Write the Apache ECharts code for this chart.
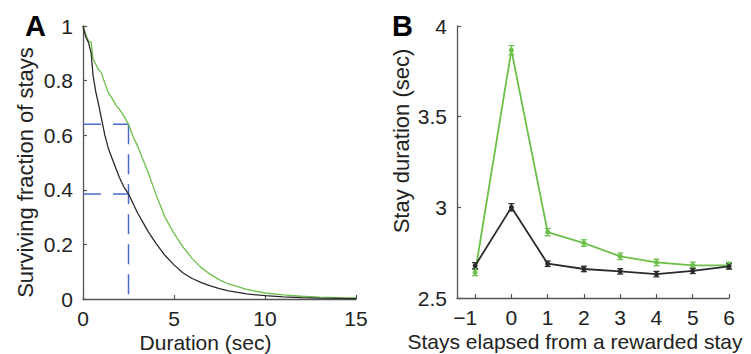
<!DOCTYPE html>
<html>
<head>
<meta charset="utf-8">
<style>
  html, body { margin: 0; padding: 0; background: #fff; }
  #chart { width: 751px; height: 354px; }
</style>
<script src="https://cdn.jsdelivr.net/npm/echarts@6/dist/echarts.min.js"></script>
</head>
<body>
<div id="chart"></div>
<script>
// Panel A: survival curves of stay durations
var durA = [0, 0.15, 0.3, 0.45, 0.55, 0.7, 0.85, 1.0, 1.2, 1.4, 1.6, 1.8, 2.0, 2.25, 2.5, 2.75, 3.0, 3.3, 3.6, 4.0, 4.5, 5.0, 5.5, 6.0, 6.5, 7.0, 7.5, 8.0, 9.0, 10.0, 11.0, 12.0, 13.0, 14.0, 15.0];
var survBlack = [1, 0.96, 0.94, 0.9, 0.82, 0.76, 0.715, 0.665, 0.6, 0.55, 0.515, 0.48, 0.445, 0.41, 0.385, 0.35, 0.315, 0.28, 0.245, 0.205, 0.16, 0.125, 0.095, 0.075, 0.06, 0.048, 0.038, 0.03, 0.019, 0.012, 0.008, 0.005, 0.003, 0.002, 0.001];
var survGreen = [1, 0.97, 0.945, 0.94, 0.88, 0.86, 0.84, 0.83, 0.79, 0.755, 0.735, 0.71, 0.695, 0.67, 0.64, 0.595, 0.56, 0.51, 0.46, 0.385, 0.3, 0.24, 0.19, 0.148, 0.115, 0.09, 0.07, 0.055, 0.035, 0.022, 0.015, 0.01, 0.007, 0.005, 0.004];
var cutTime = 2.5;
var cutLevels = [0.64, 0.385];

// Panel B: stay duration vs stays elapsed from a rewarded stay
var lagB = [-1, 0, 1, 2, 3, 4, 5, 6];
var greenMean = [2.641, 3.867, 2.863, 2.803, 2.73, 2.696, 2.68, 2.68];
var greenErr = [0.018, 0.025, 0.02, 0.018, 0.018, 0.018, 0.018, 0.018];
var blackMean = [2.678, 3.0, 2.689, 2.66, 2.647, 2.632, 2.65, 2.674];
var blackErr = [0.017, 0.02, 0.015, 0.015, 0.015, 0.015, 0.015, 0.015];

var green = '#6cc04a';
var black = '#2b2b2b';
var blue = '#4a6cc8';
var axisCol = '#555555';
var textCol = '#222222';
var font = 'Liberation Sans';

function pairs(xs, ys) {
  return xs.map(function(x, i) { return [x, ys[i]]; });
}
function errData(xs, m, e) {
  return xs.map(function(x, i) { return [x, m[i] - e[i], m[i] + e[i]]; });
}
function errorBars(color) {
  return function(params, api) {
    var lo = api.coord([api.value(0), api.value(1)]);
    var hi = api.coord([api.value(0), api.value(2)]);
    var w = 3;
    var st = { stroke: color, lineWidth: 1.3 };
    return {
      type: 'group',
      children: [
        { type: 'line', shape: { x1: lo[0], y1: lo[1], x2: hi[0], y2: hi[1] }, style: st },
        { type: 'line', shape: { x1: lo[0] - w, y1: lo[1], x2: lo[0] + w, y2: lo[1] }, style: st },
        { type: 'line', shape: { x1: hi[0] - w, y1: hi[1], x2: hi[0] + w, y2: hi[1] }, style: st }
      ]
    };
  };
}

var axisCommon = {
  nameMoveOverlap: false,
  axisLine: { show: true, onZero: false, lineStyle: { color: axisCol, width: 1.3 } },
  axisTick: { show: true, inside: true, length: 4, lineStyle: { color: axisCol, width: 1.2 } },
  axisLabel: { color: textCol, fontSize: 21, lineHeight: 19, fontFamily: font, margin: 10 },
  splitLine: { show: false },
  nameTextStyle: { color: textCol, fontSize: 21, lineHeight: 19, fontFamily: font }
};
function ax(extra) {
  var o = JSON.parse(JSON.stringify(axisCommon));
  for (var k in extra) {
    if (typeof extra[k] === 'object' && o[k] && !Array.isArray(extra[k])) {
      for (var j in extra[k]) o[k][j] = extra[k][j];
    } else {
      o[k] = extra[k];
    }
  }
  return o;
}

var chart = echarts.init(document.getElementById('chart'), null, { renderer: 'svg' });
chart.setOption({
  animation: false,
  backgroundColor: '#fff',
  title: [
    { text: 'A', left: 20, top: 6, textStyle: { fontSize: 29, fontWeight: 'bold', color: '#000', fontFamily: font } },
    { text: 'B', left: 387, top: 6, textStyle: { fontSize: 29, fontWeight: 'bold', color: '#000', fontFamily: font } }
  ],
  grid: [
    { left: 83, top: 26, width: 273, height: 273, outerBoundsMode: 'none', containLabel: false },
    { left: 457, top: 26, width: 272, height: 272, outerBoundsMode: 'none', containLabel: false }
  ],
  xAxis: [
    ax({
      gridIndex: 0, type: 'value', min: 0, max: 15, interval: 5,
      axisLabel: { margin: 10 },
      name: 'Duration (sec)', nameLocation: 'middle', nameGap: 34,
      nameTextStyle: { padding: [0, 28, 0, 0] }
    }),
    ax({
      gridIndex: 1, type: 'value', min: -1.5, max: 6,
      axisTick: { customValues: lagB },
      axisLabel: {
        margin: 10,
        customValues: lagB,
        formatter: function(v) {
          return v < 0 ? '{neg|' + String(v).replace('-', '\u2212') + '}' : String(v);
        },
        rich: { neg: { fontSize: 21, lineHeight: 19, fontFamily: font, color: textCol, padding: [0, 20, 0, 0] } }
      },
      name: 'Stays elapsed from a rewarded stay', nameLocation: 'middle', nameGap: 34,
      nameTextStyle: { padding: [0, 36, 0, 0] }
    })
  ],
  yAxis: [
    ax({
      gridIndex: 0, type: 'value', min: 0, max: 1, interval: 0.2,
      name: 'Surviving fraction of stays', nameLocation: 'middle', nameGap: 48,
      nameTextStyle: { fontSize: 22, padding: [0, 20, 0, 0] }
    }),
    ax({
      gridIndex: 1, type: 'value', min: 2.5, max: 4, interval: 0.5,
      name: 'Stay duration (sec)', nameLocation: 'middle', nameGap: 46,
      nameTextStyle: { fontSize: 22, padding: [0, 0, 0, 42] }
    })
  ],
  series: [
    {
      type: 'line', xAxisIndex: 0, yAxisIndex: 0, showSymbol: false,
      data: [[0, cutLevels[0]], [cutTime, cutLevels[0]]],
      lineStyle: { color: blue, width: 1.5, type: [18, 12] }
    },
    {
      type: 'line', xAxisIndex: 0, yAxisIndex: 0, showSymbol: false,
      data: [[0, cutLevels[1]], [cutTime, cutLevels[1]]],
      lineStyle: { color: blue, width: 1.5, type: [18, 12] }
    },
    {
      type: 'line', xAxisIndex: 0, yAxisIndex: 0, showSymbol: false,
      data: [[cutTime, cutLevels[0]], [cutTime, 0]],
      lineStyle: { color: blue, width: 1.5, type: [20, 10] }
    },
    {
      type: 'line', xAxisIndex: 0, yAxisIndex: 0, showSymbol: false,
      data: pairs(durA, survGreen),
      lineStyle: { color: green, width: 1.3 }
    },
    {
      type: 'line', xAxisIndex: 0, yAxisIndex: 0, showSymbol: false,
      data: pairs(durA, survBlack),
      lineStyle: { color: black, width: 1.3 }
    },
    {
      type: 'line', xAxisIndex: 1, yAxisIndex: 1,
      data: pairs(lagB, greenMean),
      symbol: 'circle', symbolSize: 5,
      itemStyle: { color: green }, lineStyle: { color: green, width: 1.8 }
    },
    {
      type: 'custom', xAxisIndex: 1, yAxisIndex: 1,
      data: errData(lagB, greenMean, greenErr),
      renderItem: errorBars(green), encode: { x: 0, y: [1, 2] }
    },
    {
      type: 'line', xAxisIndex: 1, yAxisIndex: 1,
      data: pairs(lagB, blackMean),
      symbol: 'circle', symbolSize: 5,
      itemStyle: { color: black }, lineStyle: { color: black, width: 1.8 }
    },
    {
      type: 'custom', xAxisIndex: 1, yAxisIndex: 1,
      data: errData(lagB, blackMean, blackErr),
      renderItem: errorBars(black), encode: { x: 0, y: [1, 2] }
    }
  ]
});
</script>
</body>
</html>
